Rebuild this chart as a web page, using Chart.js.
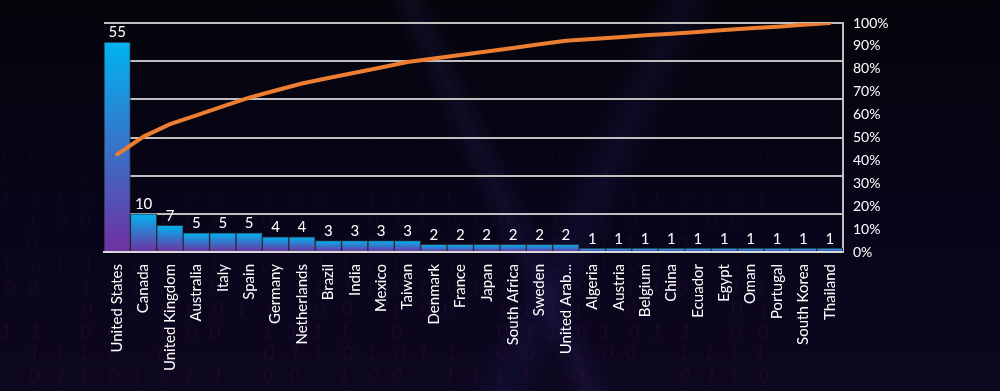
<!DOCTYPE html>
<html>
<head>
<meta charset="utf-8">
<script src="https://cdn.jsdelivr.net/npm/chart.js@4.4.1/dist/chart.umd.min.js"></script>
<style>
  html, body { margin: 0; padding: 0; }
  body {
    width: 1000px; height: 391px; overflow: hidden;
    background:
      linear-gradient(115deg, rgba(0,0,0,0) 55%, rgba(40,40,120,0.18) 58%, rgba(0,0,0,0) 61%),
      linear-gradient(65deg, rgba(0,0,0,0) 48%, rgba(60,50,140,0.16) 50%, rgba(0,0,0,0) 52%),
      linear-gradient(180deg, #05040b 0%, #08051a 60%, #0d0720 100%);
  }
  #wrap { position: relative; width: 1000px; height: 391px; }
  #bg, #chart { position: absolute; left: 0; top: 0; }
</style>
</head>
<body>
<div id="wrap">
  <canvas id="bg" width="1000" height="391"></canvas>
  <canvas id="chart" width="1000" height="391"></canvas>
</div>
<script>
// chart data ++++++++++++++++
const countries = ['United States', 'Canada', 'United Kingdom', 'Australia', 'Italy', 'Spain',
  'Germany', 'Netherlands', 'Brazil', 'India', 'Mexico', 'Taiwan', 'Denmark', 'France', 'Japan',
  'South Africa', 'Sweden', 'United Arab...', 'Algeria', 'Austria', 'Belgium', 'China', 'Ecuador',
  'Egypt', 'Oman', 'Portugal', 'South Korea', 'Thailand'];
const counts = [55, 10, 7, 5, 5, 5, 4, 4, 3, 3, 3, 3, 2, 2, 2, 2, 2, 2, 1, 1, 1, 1, 1, 1, 1, 1, 1, 1];
const cumulativePct = [42.6, 50.4, 55.8, 59.7, 63.6, 67.4, 70.5, 73.6, 76.0, 78.3, 80.6, 83.0,
  84.5, 86.0, 87.6, 89.1, 90.7, 92.2, 93.0, 93.8, 94.6, 95.3, 96.1, 96.9, 97.7, 98.4, 99.2, 100];
const pctTicks = [0, 10, 20, 30, 40, 50, 60, 70, 80, 90, 100];

const FONT = 'Lato, "Open Sans", sans-serif';

// faint binary backdrop (decoration only)
function drawBackdrop(){
    const bg = document.getElementById('bg').getContext('2d');
    bg.font = 'italic 20px ' + FONT;
    let n = 7;
    for (let col = 0; col < 40; col++){
        for (let row = 0; row < 14; row++){
            n = (n * 37 + 11) % 101;
            if (n % 3 === 0) continue;
            const x = col * 26 + (n % 5);
            const y = 140 + row * 22;
            if (x > 760) continue;
            const fade = Math.min(1, (y - 120) / 220);
            bg.fillStyle = 'rgba(110, 25, 80,' + (0.05 + 0.12 * fade).toFixed(2) + ')';
            bg.fillText(n % 2 ? '1' : '0', x, y);
        }
    }
}
drawBackdrop();

// bar value labels ++++++++++++++++
const valueLabels = {
    id: 'valueLabels',
    afterDatasetsDraw(chart){
        const ctx = chart.ctx;
        const meta = chart.getDatasetMeta(1);
        ctx.save();
        ctx.fillStyle = '#ffffff';
        ctx.font = '15px ' + FONT;
        ctx.textAlign = 'center';
        ctx.textBaseline = 'bottom';
        meta.data.forEach((bar, i) => {
            ctx.fillText(counts[i], bar.x, bar.y - 2);
        });
        ctx.restore();
    }
};

function barGradient(context){
    const chart = context.chart;
    const area = chart.chartArea;
    if (!area || context.type !== 'data') return '#1a8fe0';
    const y = chart.scales.y;
    const top = y.getPixelForValue(counts[context.dataIndex]);
    const bottom = y.getPixelForValue(0);
    const g = chart.ctx.createLinearGradient(0, top, 0, bottom);
    g.addColorStop(0, '#00b4f0');
    g.addColorStop(1, '#7030a0');
    return g;
}

const ctx = document.getElementById('chart').getContext('2d');
const myChart = new Chart(ctx, {
    data: {
        labels: countries,
        datasets: [
            {
                type: 'line',
                data: cumulativePct,
                yAxisID: 'y1',
                borderColor: '#ed7d31',
                borderWidth: 4,
                pointRadius: 0,
                tension: 0,
                borderCapStyle: 'round',
                order: 0
            },
            {
                type: 'bar',
                data: counts,
                yAxisID: 'y',
                backgroundColor: barGradient,
                borderColor: '#2a2a3a',
                borderWidth: 1,
                barPercentage: 1,
                categoryPercentage: 1,
                order: 1
            }
        ]
    },
    plugins: [valueLabels],
    options: {
        responsive: false,
        animation: false,
        layout: { padding: { left: 104, right: 97, top: 23, bottom: 0 } },
        plugins: { legend: { display: false }, tooltip: { enabled: false } },
        scales: {
            x: {
                grid: { display: false },
                border: { color: '#d9d9d9', width: 2 },
                ticks: {
                    color: '#ffffff',
                    font: { family: FONT, size: 15 },
                    minRotation: 90, maxRotation: 90,
                    autoSkip: false,
                    padding: 4
                },
                afterFit(scale){ scale.height = 139; }
            },
            y: {
                position: 'left',
                min: 0, max: 60,
                ticks: { display: false, stepSize: 10 },
                grid: { color: '#bfbfbf', lineWidth: 2, drawTicks: false },
                border: { display: false },
                afterFit(scale){ scale.width = 0; }
            },
            y1: {
                position: 'right',
                min: 0, max: 100,
                afterBuildTicks(scale){ scale.ticks = pctTicks.map(v => ({ value: v })); },
                ticks: {
                    color: '#ffffff',
                    font: { family: FONT, size: 14 },
                    padding: 10,
                    callback: v => v + '%'
                },
                grid: { display: false, drawTicks: false },
                border: { color: '#bfbfbf', width: 2 },
                afterFit(scale){ scale.width = 60; }
            }
        }
    }
});
</script>
</body>
</html>
